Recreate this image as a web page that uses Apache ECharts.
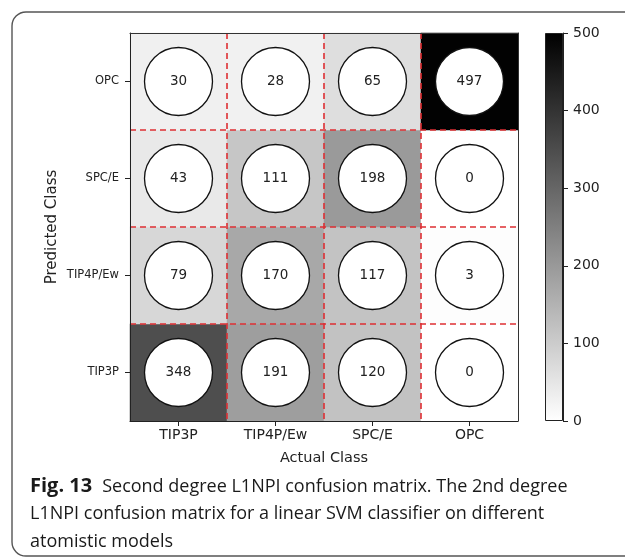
<!DOCTYPE html>
<html><head><meta charset="utf-8">
<script src="https://cdn.jsdelivr.net/npm/echarts@6/dist/echarts.min.js"></script>
<style>html,body{margin:0;padding:0;background:#fff}#c{width:625px;height:559px}</style>
</head><body><div id="c"></div>
<script>
const actualClasses = ['TIP3P', 'TIP4P/Ew', 'SPC/E', 'OPC'];
const predictedClasses = ['TIP3P', 'TIP4P/Ew', 'SPC/E', 'OPC'];
// each row: predicted class, values in order of actual classes
const predTIP3P = [348, 191, 120, 0];
const predTIP4PEw = [79, 170, 117, 3];
const predSPCE = [43, 111, 198, 0];
const predOPC = [30, 28, 65, 497];
const colorbarTicks = [0, 100, 200, 300, 400, 500];
const colorMin = 0;
const colorMax = 500;
const captionBold = 'Fig. 13';
const captionLines = [
  'Second degree L1NPI confusion matrix. The 2nd degree',
  'L1NPI confusion matrix for a linear SVM classifier on different',
  'atomistic models'
];

const rows = [predTIP3P, predTIP4PEw, predSPCE, predOPC];
const cells = [];
rows.forEach((row, yi) => row.forEach((v, xi) => cells.push([xi, yi, v])));

const chart = echarts.init(document.getElementById('c'), null, {renderer: 'canvas'});
const axisFont = 'DejaVu Sans';
const red = '#de2f33';
chart.setOption({
  backgroundColor: '#fff',
  animation: false,
  title: {
    left: 25, top: 468,
    text: '{b|' + captionBold + '}  {n|' + captionLines[0] + '}\n{n|' + captionLines[1] + '}\n{n|' + captionLines[2] + '}',
    textStyle: {
      rich: {
        b: {fontFamily: 'Open Sans', fontWeight: 'bold', fontSize: 20, color: '#1a1a1a', lineHeight: 27.5},
        n: {fontFamily: 'Open Sans', fontWeight: 'normal', fontSize: 18, color: '#1a1a1a', lineHeight: 27.5}
      }
    }
  },
  graphic: [{
    type: 'rect', silent: true, z: -1,
    shape: {x: 12, y: 12, width: 660, height: 544, r: 14},
    style: {fill: 'none', stroke: '#555', lineWidth: 1.4}
  }],
  grid: [
    {left: 130, top: 33, width: 388, height: 388},
    {left: 545, top: 33, width: 18, height: 388}
  ],
  visualMap: {
    show: false, type: 'continuous', seriesIndex: 0,
    min: colorMin, max: colorMax,
    inRange: {color: ['#ffffff', '#000000']}
  },
  xAxis: [
    {
      type: 'category', data: actualClasses, gridIndex: 0, position: 'bottom', z: 10,
      axisLine: {show: true, lineStyle: {color: '#222', width: 1}},
      axisTick: {show: true, alignWithLabel: true, length: 5, lineStyle: {color: '#222'}},
      axisLabel: {fontFamily: axisFont, fontSize: 14, color: '#222', margin: 7},
      splitLine: {show: true, showMinLine: false, showMaxLine: false, lineStyle: {color: red, width: 1.6, type: [6, 4]}},
      name: 'Actual Class', nameLocation: 'middle', nameGap: 30,
      nameTextStyle: {fontFamily: axisFont, fontSize: 14.5, color: '#222'}
    },
    {
      type: 'category', data: actualClasses, gridIndex: 0, position: 'top', z: 10,
      axisLine: {show: true, lineStyle: {color: '#333', width: 1}},
      axisTick: {show: false}, axisLabel: {show: false}, splitLine: {show: false}
    },
    {
      type: 'category', data: ['cb'], gridIndex: 1, show: false
    }
  ],
  yAxis: [
    {
      type: 'category', data: predictedClasses, gridIndex: 0, position: 'left', z: 10,
      axisLine: {show: true, lineStyle: {color: '#222', width: 1}},
      axisTick: {show: true, alignWithLabel: true, length: 5, lineStyle: {color: '#222'}},
      axisLabel: {fontFamily: axisFont, fontSize: 11.5, color: '#222', margin: 11},
      splitLine: {show: true, showMinLine: false, showMaxLine: false, lineStyle: {color: red, width: 1.6, type: [6, 4]}},
      name: 'Predicted Class', nameLocation: 'middle', nameGap: 70, nameRotate: 90,
      nameMoveOverlap: false,
      nameTextStyle: {fontFamily: axisFont, fontSize: 15, color: '#222'}
    },
    {
      type: 'category', data: predictedClasses, gridIndex: 0, position: 'right', z: 10,
      axisLine: {show: true, lineStyle: {color: '#333', width: 1}},
      axisTick: {show: false}, axisLabel: {show: false}, splitLine: {show: false}
    },
    {
      type: 'value', gridIndex: 1, position: 'right', min: colorMin, max: colorMax, interval: 100,
      axisLine: {show: true, lineStyle: {color: '#222', width: 1}},
      axisTick: {show: true, length: 5, lineStyle: {color: '#222'}},
      axisLabel: {fontFamily: axisFont, fontSize: 14, color: '#222', margin: 10,
        customValues: colorbarTicks},
      splitLine: {show: false}
    }
  ],
  series: [
    {
      type: 'heatmap', xAxisIndex: 0, yAxisIndex: 0, data: cells,
      itemStyle: {borderWidth: 0}, emphasis: {disabled: true}
    },
    {
      type: 'scatter', xAxisIndex: 0, yAxisIndex: 0, data: cells,
      symbol: 'circle', symbolSize: 68,
      itemStyle: {color: '#fff', borderColor: '#111', borderWidth: 1.3, opacity: 1},
      label: {show: true, position: 'inside', formatter: p => String(p.value[2]),
        fontFamily: axisFont, fontSize: 13.5, color: '#222'},
      emphasis: {disabled: true}
    },
    {
      type: 'bar', xAxisIndex: 2, yAxisIndex: 2, data: [colorMax], barWidth: '100%',
      itemStyle: {
        color: new echarts.graphic.LinearGradient(0, 0, 0, 1, [
          {offset: 0, color: '#000000'}, {offset: 1, color: '#ffffff'}
        ]),
        borderColor: '#222', borderWidth: 1
      },
      emphasis: {disabled: true}
    }
  ]
});
</script>
</body></html>
